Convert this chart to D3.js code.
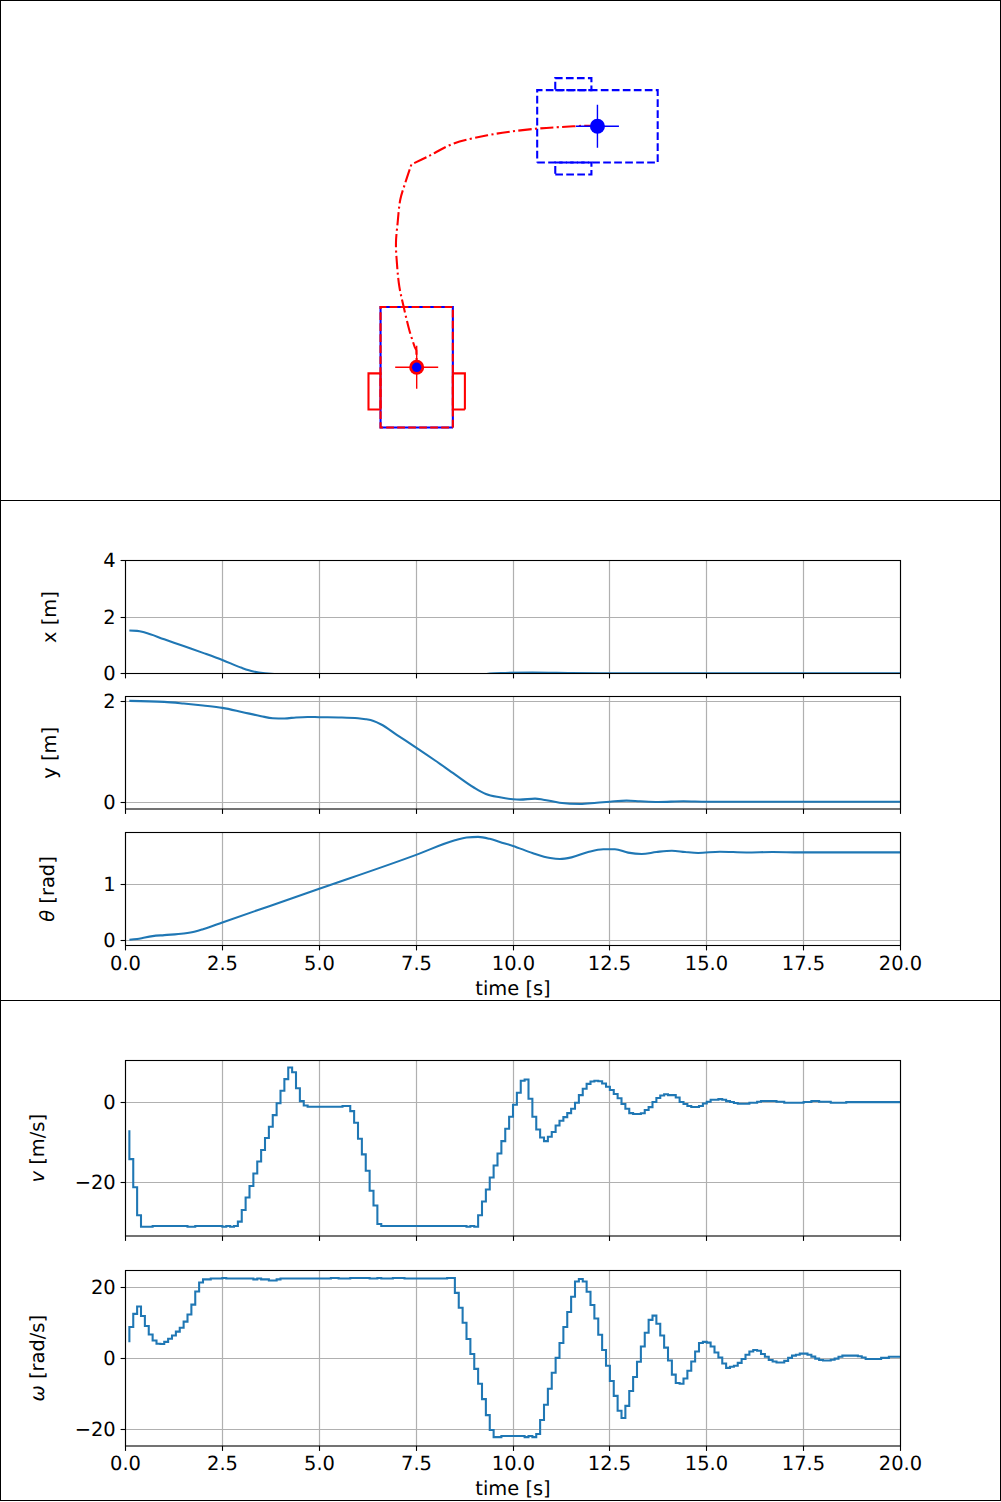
<!DOCTYPE html>
<html>
<head>
<meta charset="utf-8">
<script src="https://cdn.jsdelivr.net/npm/d3@7"></script>
<style>
  html, body { margin: 0; padding: 0; background: #fff; }
  svg { display: block; }
  text { font-family: "DejaVu Sans", sans-serif; text-rendering: geometricPrecision; }
</style>
</head>
<body>
<div id="chart"></div>
<script>
// robot outline in body frame [m]
var bodyX = [-0.5, 0.5, 0.5, -0.5, -0.5],
    bodyY = [-0.3, -0.3, 0.3, 0.3, -0.3],
    tireX = [-0.35, -0.05, -0.05, -0.35, -0.35],
    tireLY = [0.3, 0.3, 0.4, 0.4, 0.3],
    tireRY = [-0.4, -0.4, -0.3, -0.3, -0.4];

var startPose = [1.5, 2.0, 0],
    goalPose = [0, 0, Math.PI / 2];

// path driven [m], it has a kink where the two legs meet
var legOneX = [1.5, 1.447, 1.197, 1.003, 0.78, 0.587, 0.308, 0.1, -0.044],
    legOneY = [2.0, 2.005, 1.994, 1.981, 1.956, 1.925, 1.858, 1.753, 1.683],
    legTwoX = [-0.044, -0.094, -0.136, -0.158, -0.172, -0.163, -0.144, -0.108, -0.061, -0.017],
    legTwoY = [1.683, 1.533, 1.392, 1.2, 1.033, 0.85, 0.669, 0.502, 0.308, 0.169],
    legEndX = [-0.017, -0.003, 0, 0],
    legEndY = [0.169, 0.142, 0.03, 0];

// states
var xTime = [0.1, 0.3, 0.5, 1, 1.5, 2, 2.5, 3, 3.3, 3.6, 4.5, 6, 7, 9, 9.4, 9.8, 10.5, 11.5, 12.5, 20],
    xVals = [1.52, 1.51, 1.45, 1.21, 0.97, 0.73, 0.48, 0.2, 0.07, 0.005, -0.06, -0.06, -0.15, -0.1, 0, 0.02, 0.035, 0.02, 0.01, 0.005];

var yTime = [0.1, 1, 1.5, 2, 2.5, 3, 3.5, 3.8, 4.1, 4.4, 4.7, 5, 5.5, 6, 6.2, 6.4, 6.6, 7, 7.5, 8, 8.5, 9, 9.3, 9.66, 10, 10.18, 10.57, 10.78, 11.2, 11.73, 12.16, 12.5, 12.93, 13.28, 13.75, 14.4, 15, 20],
    yVals = [2.02, 2.0, 1.967, 1.927, 1.88, 1.8, 1.715, 1.675, 1.67, 1.69, 1.7, 1.695, 1.69, 1.675, 1.655, 1.62, 1.55, 1.344, 1.09, 0.828, 0.556, 0.29, 0.166, 0.1, 0.06, 0.053, 0.073, 0.053, -0.007, -0.033, -0.007, 0.013, 0.033, 0.02, 0.007, 0.02, 0.01, 0.01];

var thTime = [0.1, 0.3, 0.5, 0.7, 1, 1.5, 1.8, 2, 2.5, 5, 7.5, 8.5, 8.8, 9.1, 9.4, 9.66, 10, 10.5, 10.96, 11.21, 11.51, 11.94, 12.33, 12.63, 12.97, 13.32, 13.7, 14.1, 14.44, 14.78, 15.34, 16.02, 16.7, 17.4, 20],
    thVals = [0.012, 0.024, 0.053, 0.077, 0.095, 0.124, 0.16, 0.2, 0.32, 0.917, 1.52, 1.78, 1.83, 1.84, 1.805, 1.75, 1.68, 1.554, 1.464, 1.446, 1.476, 1.571, 1.62, 1.62, 1.56, 1.536, 1.571, 1.595, 1.571, 1.554, 1.577, 1.563, 1.571, 1.565, 1.565];

// inputs, one value every 0.1 s from t = 0.1
var vVals = [
  -7, -14.2, -21.2, -28.2, -31.1, -31.1, -31.1, -30.9, -30.9, -30.9,
  -30.9, -30.9, -30.9, -30.9, -30.9, -30.9, -31.1, -31.1, -30.9, -30.9,
  -30.9, -30.9, -30.9, -30.9, -30.9, -31.1, -30.9, -31.1, -30.9, -29.8,
  -26.9, -23.8, -20.9, -17.8, -14.8, -11.9, -8.9, -6.1, -3.2, -0.25,
  2.9, 5.8, 8.7, 7.5, 3.5, 0.3, -0.8, -1.1, -1.1, -1.1,
  -1.1, -1.1, -1.1, -1.1, -1.1, -1.1, -0.9, -0.9, -2.2, -5.1,
  -9.1, -13, -17.1, -22.1, -25.8, -30.4, -30.9, -30.9, -30.9, -30.9,
  -30.9, -30.9, -30.9, -30.9, -30.9, -30.9, -30.9, -30.9, -30.9, -30.9,
  -30.9, -30.9, -30.9, -30.9, -30.9, -30.9, -30.9, -30.9, -31.1, -30.9,
  -31.1, -28.2, -24.8, -21.8, -18.8, -15.8, -12.8, -9.7, -6.6, -3.6,
  -0.6, 2.4, 5.4, 5.7, 0.9, -3.6, -6.8, -8.8, -9.7, -8.6,
  -7.4, -5.8, -4.6, -3.7, -2.7, -1.6, -0.1, 1.8, 3.4, 4.6,
  5.2, 5.4, 5.25, 4.7, 3.9, 3.1, 2.1, 1.0, -0.4, -1.6,
  -2.7, -2.9, -2.9, -2.75, -1.9, -1.2, 0.1, 1.1, 1.7, 2.0,
  1.8, 1.8, 1.2, 0.1, -0.4, -0.9, -1.15, -1.15, -0.9, -0.3,
  0.15, 0.65, 0.65, 0.8, 0.65, 0.3, 0.1, -0.15, -0.35, -0.35,
  -0.35, -0.1, -0.1, 0.15, 0.35, 0.35, 0.35, 0.35, 0.15, 0.15,
  -0.1, -0.1, -0.1, -0.1, -0.1, 0.1, 0.1, 0.35, 0.35, 0.15,
  0.15, 0.15, -0.1, -0.1, -0.1, -0.1, 0.05, 0.05, 0.05, 0.05,
  0.05, 0.05, 0.05, 0.05, 0.05, 0.05, 0.05, 0.05, 0.05, 0.05
];

var wVals = [
  4.5, 8.8, 12.5, 14.55, 11.9, 9.1, 6.7, 5, 4.1, 4,
  4.6, 5.5, 6.4, 7.5, 8.6, 10.3, 12.3, 15.1, 18.8, 21.3,
  22.2, 22.2, 22.45, 22.45, 22.45, 22.6, 22.45, 22.45, 22.45, 22.45,
  22.45, 22.45, 22.45, 22.2, 22.45, 22.2, 22.2, 21.9, 21.9, 22.2,
  22.45, 22.45, 22.45, 22.45, 22.45, 22.45, 22.45, 22.45, 22.45, 22.45,
  22.45, 22.45, 22.45, 22.6, 22.6, 22.45, 22.45, 22.45, 22.6, 22.6,
  22.6, 22.6, 22.6, 22.45, 22.45, 22.6, 22.45, 22.45, 22.45, 22.6,
  22.6, 22.6, 22.45, 22.45, 22.45, 22.45, 22.45, 22.45, 22.45, 22.45,
  22.45, 22.45, 22.45, 22.6, 22.6, 18.4, 14.2, 10, 5.4, 1.2,
  -3, -7.2, -11.5, -16, -20.2, -22.2, -22.2, -21.9, -21.9, -21.9,
  -21.9, -21.9, -21.9, -22.2, -21.9, -22.2, -21.3, -17.4, -13.1, -8.6,
  -4.1, 0.1, 4.3, 8.8, 13, 17.3, 21.6, 22.3, 21.6, 18.7,
  15, 11.2, 6.6, 2.3, -2.1, -6.4, -10.6, -14.8, -16.8, -13.4,
  -9.2, -5.3, -1, 3.3, 7.2, 10.8, 12, 9.7, 6.4, 3,
  -0.65, -4.6, -6.95, -7.2, -5.7, -3.5, -0.9, 1.9, 4.3, 4.6,
  4.4, 3.3, 1.6, 0.2, -1.5, -2.7, -2.4, -2.1, -1.3, -0.2,
  1, 1.9, 2.3, 2.1, 1.2, 0.4, -0.5, -0.9, -1.2, -1.2,
  -0.75, 0.1, 0.75, 1, 1.3, 1.3, 1, 0.45, -0.1, -0.5,
  -0.65, -0.65, -0.4, -0.1, 0.4, 0.75, 0.75, 0.75, 0.75, 0.55,
  0.2, -0.2, -0.2, -0.2, -0.2, 0.1, 0.1, 0.4, 0.4, 0.4
];
var inputTime = vVals.map(function(d, i) { return (i + 1) / 10; });

var timeTicks = [0, 2.5, 5, 7.5, 10, 12.5, 15, 17.5, 20];

var width = 1001, height = 1502,
    left = 125.5, right = 900.5,
    fontSize = 19.44,
    lineBlue = "#1f77b4", gridGrey = "#b0b0b0";

var svg = d3.select("#chart").append("svg")
  .attr("width", width)
  .attr("height", height);

// outer frames of the three stacked figures
[[0.5, 500], [500.5, 500], [1000.5, 500]].forEach(function(f) {
  svg.append("rect")
    .attr("x", 0.5).attr("y", f[0])
    .attr("width", 1000).attr("height", f[1])
    .attr("fill", "#fff").attr("stroke", "#000").attr("stroke-width", 1);
});

// ---- top panel ----
var mapX = d3.scaleLinear().domain([-3.458, 4.849]).range([0, 1001]),
    mapY = d3.scaleLinear().domain([-1.101, 3.048]).range([500, 0]);

var mapLine = d3.line()
  .x(function(d) { return mapX(d[0]); })
  .y(function(d) { return mapY(d[1]); });

var mapCurve = d3.line()
  .curve(d3.curveCatmullRom)
  .x(function(d) { return mapX(d[0]); })
  .y(function(d) { return mapY(d[1]); });

function zipXY(xs, ys) {
  return xs.map(function(x, i) { return [x, ys[i]]; });
}

// rotate a body frame outline onto the map
function outline(xs, ys, pose) {
  var c = Math.cos(pose[2]), s = Math.sin(pose[2]);
  return mapLine(xs.map(function(x, i) {
    return [pose[0] + x * c - ys[i] * s, pose[1] + x * s + ys[i] * c];
  }));
}

function drawRobot(pose, color, dash, parts) {
  parts.forEach(function(p) {
    svg.append("path")
      .attr("d", outline(p[0], p[1], pose))
      .attr("fill", "none")
      .attr("stroke", color)
      .attr("stroke-width", 2.08)
      .attr("stroke-dasharray", dash);
  });
}

function drawMarker(pose, color, r) {
  var cx = mapX(pose[0]), cy = mapY(pose[1]);
  svg.append("path")
    .attr("d", "M" + (cx - 21.5) + "," + cy + "H" + (cx + 21.5) + "M" + cx + "," + (cy - 21.5) + "V" + (cy + 21.5))
    .attr("stroke", color)
    .attr("stroke-width", 1.4)
    .attr("fill", "none");
  svg.append("circle")
    .attr("cx", cx).attr("cy", cy).attr("r", r)
    .attr("fill", color);
}

var bodyPart = [bodyX, bodyY],
    tireParts = [[tireX, tireLY], [tireX, tireRY]];

// goal outline under the moving one, start outline dashed
drawRobot(startPose, "#0000ff", "7.7,3.3", [bodyPart].concat(tireParts));
drawRobot(goalPose, "#0000ff", null, [bodyPart]);
drawRobot(goalPose, "#ff0000", "7.7,3.3", [bodyPart]);
drawRobot(goalPose, "#ff0000", null, tireParts);

// legs joined into one subpath so the dash pattern runs on through the kink
svg.append("path")
  .attr("d", mapCurve(zipXY(legOneX, legOneY)) +
    mapCurve(zipXY(legTwoX, legTwoY)).replace(/^M/, "L") +
    mapLine(zipXY(legEndX, legEndY)).replace(/^M/, "L"))
  .attr("fill", "none")
  .attr("stroke", "#ff0000")
  .attr("stroke-width", 2.08)
  .attr("stroke-dasharray", "13.3,3.3,2.1,3.3");

drawMarker(startPose, "#0000ff", 7.5);
drawMarker(goalPose, "#ff0000", 7.5);
svg.append("circle")
  .attr("cx", mapX(goalPose[0])).attr("cy", mapY(goalPose[1])).attr("r", 4.7)
  .attr("fill", "#0000ff");

// ---- time plots ----
var plots = [
  {id: "x", top: 560.5, bottom: 673.5, domain: [0, 4], ticks: [0, 2, 4], time: xTime, vals: xVals, curve: d3.curveMonotoneX, label: [["x [m]", false]], labelX: 56},
  {id: "y", top: 696.5, bottom: 809, domain: [-0.133, 2.107], ticks: [0, 2], time: yTime, vals: yVals, curve: d3.curveMonotoneX, label: [["y [m]", false]], labelX: 56},
  {id: "th", top: 832.5, bottom: 945.5, domain: [-0.09, 1.918], ticks: [0, 1], time: thTime, vals: thVals, curve: d3.curveMonotoneX, label: [["θ", true], [" [rad]", false]], labelX: 54, xlabel: true},
  {id: "v", top: 1060.5, bottom: 1236, domain: [-33.4, 10.45], ticks: [-20, 0], time: inputTime, vals: vVals, curve: d3.curveStepBefore, label: [["v", true], [" [m/s]", false]], labelX: 44},
  {id: "w", top: 1270.5, bottom: 1446, domain: [-24.7, 24.7], ticks: [-20, 0, 20], time: inputTime, vals: wVals, curve: d3.curveStepBefore, label: [["ω", true], [" [rad/s]", false]], labelX: 44, xlabel: true}
];

var t = d3.scaleLinear().domain([0, 20]).range([left, right]),
    // ticks and grid lines sit on whole pixels, the axis adds the half pixel back
    tSnap = d3.scaleLinear().domain([0, 20]).rangeRound([left - 0.5, right - 0.5]);

function minusSign(d) { return String(d).replace("-", "\u2212"); }

plots.forEach(function(p) {
  var y = d3.scaleLinear().domain(p.domain).range([p.bottom, p.top]),
      ySnap = d3.scaleLinear().domain(p.domain).range([p.bottom - 0.5, p.top - 0.5]).interpolate(d3.interpolateRound),
      h = p.bottom - p.top,
      g = svg.append("g");

  // grid
  g.append("g")
    .attr("transform", "translate(0," + p.bottom + ")")
    .call(d3.axisBottom(tSnap).tickValues(timeTicks).tickSize(-h).tickFormat(""))
    .call(function(s) { s.select(".domain").remove(); })
    .selectAll("line").attr("stroke", gridGrey).attr("stroke-width", 1.2);
  g.append("g")
    .attr("transform", "translate(" + left + ",0)")
    .call(d3.axisLeft(ySnap).tickValues(p.ticks).tickSize(-(right - left)).tickFormat(""))
    .call(function(s) { s.select(".domain").remove(); })
    .selectAll("line").attr("stroke", gridGrey).attr("stroke-width", 1.2);

  svg.append("clipPath").attr("id", "clip-" + p.id)
    .append("rect")
    .attr("x", left).attr("y", p.top)
    .attr("width", right - left).attr("height", h);

  var line = d3.line()
    .curve(p.curve)
    .x(function(d, i) { return t(p.time[i]); })
    .y(function(d) { return y(d); });

  g.append("path")
    .attr("d", line(p.vals))
    .attr("clip-path", "url(#clip-" + p.id + ")")
    .attr("fill", "none")
    .attr("stroke", lineBlue)
    .attr("stroke-width", 2.08);

  // spines and ticks
  g.append("rect")
    .attr("x", left).attr("y", p.top)
    .attr("width", right - left).attr("height", h)
    .attr("fill", "none").attr("stroke", "#000").attr("stroke-width", 1.1);

  var bottomAxis = d3.axisBottom(tSnap)
    .tickValues(timeTicks)
    .tickSize(4.9)
    .tickPadding(5.5)
    .tickFormat(p.xlabel ? function(d) { return d3.format(".1f")(d); } : "");
  var ax = g.append("g")
    .attr("transform", "translate(0," + p.bottom + ")")
    .call(bottomAxis);
  ax.select(".domain").remove();
  ax.selectAll("line").attr("stroke", "#000").attr("stroke-width", 1.1);
  ax.selectAll("text").attr("fill", "#000").attr("font-size", fontSize).attr("font-family", "DejaVu Sans");

  var leftAxis = d3.axisLeft(ySnap)
    .tickValues(p.ticks)
    .tickSize(4.9)
    .tickPadding(4.9)
    .tickFormat(minusSign);
  var ay = g.append("g")
    .attr("transform", "translate(" + left + ",0)")
    .call(leftAxis);
  ay.select(".domain").remove();
  ay.selectAll("line").attr("stroke", "#000").attr("stroke-width", 1.1);
  ay.selectAll("text").attr("fill", "#000").attr("font-size", fontSize).attr("font-family", "DejaVu Sans");

  var lab = g.append("text")
    .attr("transform", "translate(" + p.labelX + "," + (p.top + p.bottom) / 2 + ") rotate(-90)")
    .attr("text-anchor", "middle")
    .attr("font-size", fontSize)
    .attr("fill", "#000");
  p.label.forEach(function(part) {
    lab.append("tspan")
      .attr("font-style", part[1] ? "italic" : "normal")
      .text(part[0]);
  });

  if (p.xlabel) {
    g.append("text")
      .attr("x", (left + right) / 2)
      .attr("y", p.bottom + 49)
      .attr("text-anchor", "middle")
      .attr("font-size", fontSize)
      .attr("fill", "#000")
      .text("time [s]");
  }
});
</script>
</body>
</html>
